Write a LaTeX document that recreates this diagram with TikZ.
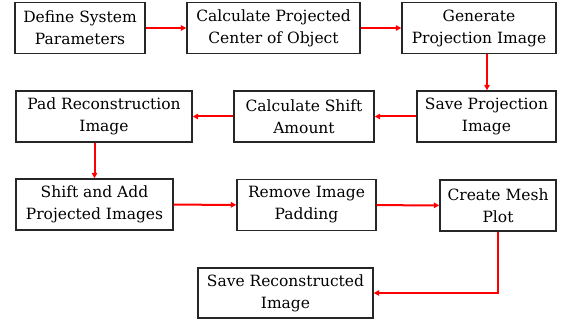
\documentclass[tikz,border=0pt]{standalone}
\usepackage{fontspec}
\newfontfamily\boxfont{DejaVu Serif}
\usetikzlibrary{arrows.meta}
\begin{document}
\begin{tikzpicture}[x=1pt,y=-1pt,
  stepbox/.style={draw=black!85,line width=1.4pt,align=center,inner sep=0pt,
    font=\boxfont\fontsize{15.5}{22}\selectfont},
  flow/.style={draw=red,line width=2pt,-{Triangle[length=5.5pt,width=5.5pt]}}]
\useasboundingbox (0,0) rectangle (563,320);
\node[stepbox,minimum width=130,minimum height=51] (d) at (80,28) {Define System\\Parameters};
\node[stepbox,minimum width=173,minimum height=51] (c) at (273.5,28) {Calculate Projected\\Center of Object};
\node[stepbox,minimum width=154,minimum height=51] (g) at (479,28) {Generate\\Projection Image};
\node[stepbox,minimum width=139,minimum height=51] (s) at (486.5,116.5) {Save Projection\\Image};
\node[stepbox,minimum width=140,minimum height=51] (a) at (304,116.5) {Calculate Shift\\Amount};
\node[stepbox,minimum width=176,minimum height=51] (p) at (104,116.5) {Pad Reconstruction\\Image};
\node[stepbox,minimum width=157,minimum height=51] (h) at (94.5,204.5) {Shift and Add\\Projected Images};
\node[stepbox,minimum width=139,minimum height=51] (r) at (306.5,205) {Remove Image\\Padding};
\node[stepbox,minimum width=116,minimum height=51] (m) at (498,205.5) {Create Mesh\\Plot};
\node[stepbox,minimum width=175,minimum height=50] (v) at (285.5,293) {Save Reconstructed\\Image};
\draw[flow] (d) -- (c);
\draw[flow] (c) -- (g);
\draw[flow] (g.south -| s.north) ++(0.5,0) coordinate (gs) (gs) -- (gs |- s.north);
\draw[flow] (s) -- (a);
\draw[flow] (a) -- (p);
\draw[flow] (p.south -| h.north) -- (h.north);
\draw[flow] (h) -- (r);
\draw[flow] (r) -- (m);
\draw[flow] (m.south) |- (v.east);
\end{tikzpicture}
\end{document}
